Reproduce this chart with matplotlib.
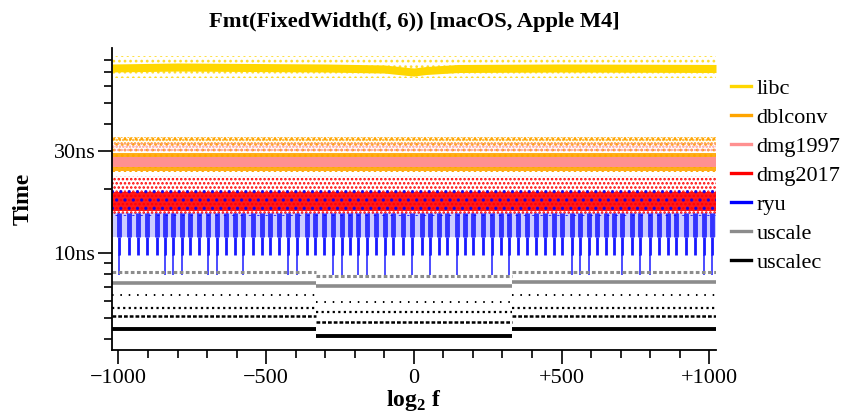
import matplotlib
matplotlib.use('Agg')
import matplotlib.pyplot as plt
from matplotlib.lines import Line2D
from matplotlib.ticker import FixedLocator, FuncFormatter

plt.rcParams['font.family'] = ['Liberation Serif', 'DejaVu Serif']
plt.rcParams['mathtext.fontset'] = 'custom'
plt.rcParams['mathtext.rm'] = 'Liberation Serif:bold'
plt.rcParams['mathtext.bf'] = 'Liberation Serif:bold'
plt.rcParams['hatch.linewidth'] = 1.2

# series names and colours (legend order = draw order)
names = ['libc', 'dblconv', 'dmg1997', 'dmg2017', 'ryu', 'uscale', 'uscalec']
colors = ['#FFD700', '#FFA500', '#FF9090', '#FF0000', '#0000FF', '#8C8C8C', '#000000']

# x range of log2 f, and the places where uscale/uscalec change level
x_range = [-1022, 1023]
seg_edges = [-1022, -332, 332, 1023]

# libc: dense core (ns) along x, plus the loose cloud around it
libc_x = [-1022, -800, -300, -100, -20, 0, 40, 150, 500, 1023]
libc_lo = [70.1, 70.8, 70.1, 69.3, 67.5, 67.1, 68.2, 69.7, 70.1, 69.7]
libc_hi = [76.4, 77.2, 76.4, 75.6, 73.6, 73.2, 74.3, 76.0, 76.4, 76.0]
libc_cloud = [65.5, 83.0]

# dblconv: upper row and lower comb, whole cloud
dblconv_top = [32.0, 34.9]
dblconv_comb = [24.3, 29.4]
dblconv_cloud = [24.0, 35.5]

# dmg1997: dense core and lighter row above it
dmg1997_core = [25.3, 28.1]
dmg1997_row = [29.7, 32.7]

# dmg2017: dense part and the cloud
dmg2017_core = [15.8, 19.3]
dmg2017_cloud = [15.1, 22.9]

# ryu: cloud, blob band, periodic streaks
ryu_cloud = [15.0, 20.8]
ryu_blobs = [11.9, 15.4]
ryu_streak = [9.8, 11.9]
ryu_long_bottom = 7.9
ryu_streak_x = [-997, -966, -933, -904, -871, -842, -814, -786, -758, -727,
                -696, -666, -636, -606, -578, -546, -515, -487, -455, -425,
                -394, -363, -335, -304, -275, -244, -216, -188, -158, -128,
                -98, -70, -38, -7, 26, 54, 86, 113, 145, 173, 201, 233, 263,
                294, 323, 353, 384, 413, 444, 474, 503, 534, 564, 593, 620,
                650, 677, 706, 737, 767, 799, 830, 861, 889, 920, 951, 981, 1011]
ryu_long_x = [-997, -842, -814, -786, -696, -666, -578, -425, -394, -275, -244,
              -188, -158, -98, -7, 54, 145, 263, 323, 534, 564, 593, 706, 767,
              799, 981, 1011]

# uscale: two rows per x segment (ns)
uscale_upper = [8.21, 7.84, 8.21]
uscale_lower = [7.29, 7.04, 7.35]

# uscalec: four rows per x segment (ns)
uscalec_sparse = [6.39, 5.93, 6.39]
uscalec_row2 = [5.56, 5.32, 5.56]
uscalec_row3 = [5.10, 4.78, 5.10]
uscalec_dense = [4.42, 4.11, 4.42]

xticks = [-1000, -500, 0, 500, 1000]
yticks = [10, 30]
yminor = [4, 5, 6, 7, 8, 9, 20, 40, 50, 60, 70, 80]

fig = plt.figure(figsize=(8.42, 4.15), dpi=100)
ax = fig.add_axes([112 / 842, 65 / 415, 604 / 842, 302 / 415])
ax.set_yscale('log')


def cloud(c, band, hatch='....', alpha=1.0):
    ax.fill_between(x_range, band[0], band[1], facecolor='none', edgecolor=c,
                    hatch=hatch, linewidth=0, alpha=alpha)


def solid(c, band, alpha=1.0):
    ax.fill_between(x_range, band[0], band[1], color=c, linewidth=0, alpha=alpha)


def rows(c, levels, lw, ls):
    for i, v in enumerate(levels):
        ax.hlines(v, seg_edges[i], seg_edges[i + 1], color=c, lw=lw, linestyles=[ls])


# libc
cloud(colors[0], libc_cloud, hatch='...', alpha=0.8)
ax.fill_between(libc_x, libc_lo, libc_hi, color=colors[0], linewidth=0)

# dblconv
cloud(colors[1], dblconv_cloud, hatch='...')
cloud(colors[1], dblconv_top, hatch='.....')
solid(colors[1], dblconv_comb, alpha=0.9)

# dmg1997
cloud(colors[2], dmg1997_row, hatch='.....')
solid(colors[2], dmg1997_core)

# dmg2017
cloud(colors[3], dmg2017_cloud, hatch='....')
solid(colors[3], dmg2017_core, alpha=0.9)

# ryu
cloud(colors[4], ryu_cloud, hatch='..', alpha=0.8)
solid(colors[4], ryu_blobs, alpha=0.2)
ax.vlines(ryu_streak_x, ryu_blobs[0], ryu_blobs[1], color=colors[4], lw=3.5,
          alpha=0.75)
ax.vlines(ryu_streak_x, ryu_streak[0], ryu_streak[1], color=colors[4], lw=2.0,
          alpha=0.9)
ax.vlines(ryu_long_x, ryu_long_bottom, ryu_streak[0], color=colors[4], lw=1.4,
          alpha=0.7)

# uscale
rows(colors[5], uscale_upper, 2.2, (0, (1.2, 0.8)))
rows(colors[5], uscale_lower, 2.6, '-')

# uscalec
rows(colors[6], uscalec_sparse, 1.4, (0, (0.8, 3.5)))
rows(colors[6], uscalec_row2, 1.6, (0, (1.0, 1.5)))
rows(colors[6], uscalec_row3, 1.8, (0, (1.5, 0.8)))
rows(colors[6], uscalec_dense, 2.8, '-')

ax.set_xlim(x_range)
ax.set_ylim(3.54, 90.7)

for s in ['top', 'right']:
    ax.spines[s].set_visible(False)
for s in ['left', 'bottom']:
    ax.spines[s].set_linewidth(1.3)

ax.xaxis.set_major_locator(FixedLocator(xticks))
ax.xaxis.set_minor_locator(FixedLocator(list(range(-1000, 1001, 100))))
ax.xaxis.set_major_formatter(FuncFormatter(
    lambda v, p: '0' if v == 0 else ('+%d' % v if v > 0 else '\u2212%d' % -v)))
ax.yaxis.set_major_locator(FixedLocator(yticks))
ax.yaxis.set_minor_locator(FixedLocator(yminor))
ax.yaxis.set_major_formatter(FuncFormatter(lambda v, p: '%dns' % v))
ax.yaxis.set_minor_formatter(FuncFormatter(lambda v, p: ''))

ax.tick_params(which='major', direction='out', length=10, width=1.2, labelsize=16)
ax.tick_params(which='minor', direction='out', length=5.5, width=1.2)
ax.tick_params(axis='x', which='major', pad=4)
ax.tick_params(axis='y', which='major', pad=2)

ax.set_title('Fmt(FixedWidth(f, 6)) [macOS, Apple M4]', fontsize=16.2,
             fontweight='bold', pad=15)
ax.set_ylabel('Time', fontsize=17, fontweight='bold', labelpad=14)
ax.set_xlabel(r'log$_\mathrm{2}$ f', fontsize=17, fontweight='bold', labelpad=0)

handles = [Line2D([], [], color=c, lw=2.4) for c in colors]
fig.legend(handles, names, loc='upper left', bbox_to_anchor=(731 / 842, 1 - 78 / 415),
           frameon=False, fontsize=16, handlelength=0.9, handletextpad=0.25,
           labelspacing=0.38, borderpad=0, borderaxespad=0)

fig.savefig('out.png', dpi=100)
